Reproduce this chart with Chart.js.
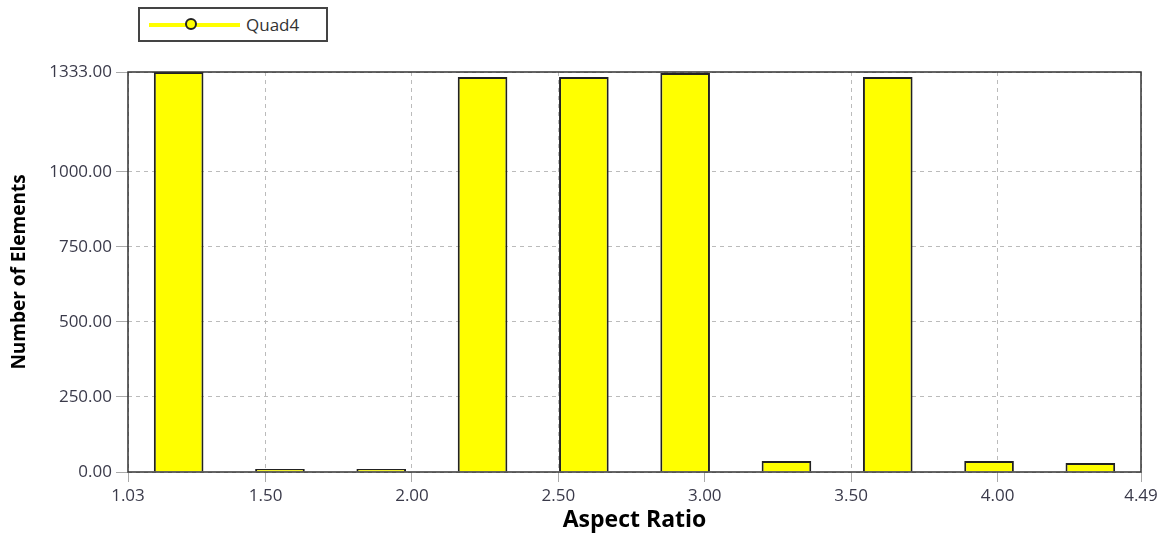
<!DOCTYPE html>
<html>
<head>
<meta charset="utf-8">
<script src="https://cdn.jsdelivr.net/npm/chart.js@4/dist/chart.umd.min.js"></script>
<style>
  body { margin: 0; background: #fff; }
  #wrap { position: relative; width: 1169px; height: 558px; }
  #legend {
    position: absolute; left: 138px; top: 7px; width: 190px; height: 35px;
    border: 2px solid #444; box-sizing: border-box; background: #fff;
    font-family: 'Open Sans', sans-serif; font-size: 17px; color: #333;
  }
  #legend .line { position: absolute; left: 9px; top: 14px; width: 91px; height: 4px; }
  #legend .dot { position: absolute; left: 45px; top: 9px; width: 12px; height: 12px;
    border: 2px solid #222; border-radius: 50%; box-sizing: border-box; }
  #legend .txt { position: absolute; left: 106px; top: 4px; }
</style>
</head>
<body>
<div id="wrap">
  <canvas id="chart" width="1169" height="558"></canvas>
  <div id="legend"></div>
</div>
<script>
// histogram bins (aspect ratio bin centres) and element counts
const binCenters = [1.203, 1.549, 1.895, 2.241, 2.587, 2.933, 3.279, 3.625, 3.971, 4.317];
const counts = [1333, 10, 10, 1316, 1316, 1330, 37, 1316, 37, 30];
const xTicks = [1.03, 1.50, 2.00, 2.50, 3.00, 3.50, 4.00, 4.49];
const yTicks = [0, 250, 500, 750, 1000, 1333];
const seriesName = 'Quad4';
const barColor = '#ffff00';

const legend = document.getElementById('legend');
legend.innerHTML =
  '<div class="line" style="background:' + barColor + '"></div>' +
  '<div class="dot" style="background:' + barColor + '"></div>' +
  '<div class="txt">' + seriesName + '</div>';

const frame = {
  id: 'frame',
  afterDatasetsDraw(chart) {
    const a = chart.chartArea, ctx = chart.ctx;
    ctx.save();
    ctx.strokeStyle = '#333';
    ctx.lineWidth = 1.5;
    ctx.strokeRect(a.left, a.top, a.right - a.left, a.bottom - a.top);
    ctx.restore();
  }
};

const tickFont = { family: 'Open Sans', size: 17 };

new Chart(document.getElementById('chart'), {
  type: 'bar',
  data: {
    datasets: [{
      label: seriesName,
      data: binCenters.map((x, i) => ({ x: x, y: counts[i] })),
      backgroundColor: barColor,
      borderColor: '#222',
      borderWidth: 2,
      barPercentage: 0.49,
      categoryPercentage: 1
    }]
  },
  options: {
    responsive: false,
    animation: false,
    layout: { padding: { top: 72, right: 28, left: 0, bottom: 20 } },
    plugins: { legend: { display: false }, tooltip: { enabled: false } },
    scales: {
      x: {
        type: 'linear',
        min: 1.03,
        max: 4.49,
        offset: false,
        afterBuildTicks: s => { s.ticks = xTicks.map(v => ({ value: v })); },
        afterFit: s => { s.height = 66; },
        ticks: {
          autoSkip: false, maxRotation: 0,
          callback: v => Number(v).toFixed(2),
          color: '#3a3a4a',
          font: tickFont,
          padding: 4
        },
        grid: { offset: false, color: '#bbb', tickColor: '#aaa', tickLength: 10, tickBorderDash: [] },
        border: { display: false, dash: [4, 4] },
        title: {
          display: true, text: 'Aspect Ratio', color: '#000',
          font: { family: 'Open Sans', size: 23, weight: 'bold' },
          padding: { top: 0 }
        }
      },
      y: {
        min: 0,
        max: 1333,
        afterBuildTicks: s => { s.ticks = yTicks.map(v => ({ value: v })); },
        afterFit: s => { s.width = 128; },
        ticks: {
          callback: v => Number(v).toFixed(2),
          color: '#3a3a4a',
          font: tickFont,
          padding: 4
        },
        grid: { color: '#bbb', tickColor: '#aaa', tickLength: 12, tickBorderDash: [] },
        border: { display: false, dash: [4, 4] },
        title: {
          display: true, text: 'Number of Elements', color: '#000',
          font: { family: 'Open Sans', size: 19, weight: 'bold' },
          padding: { top: 8, bottom: 0 }
        }
      }
    }
  },
  plugins: [frame]
});
</script>
</body>
</html>
